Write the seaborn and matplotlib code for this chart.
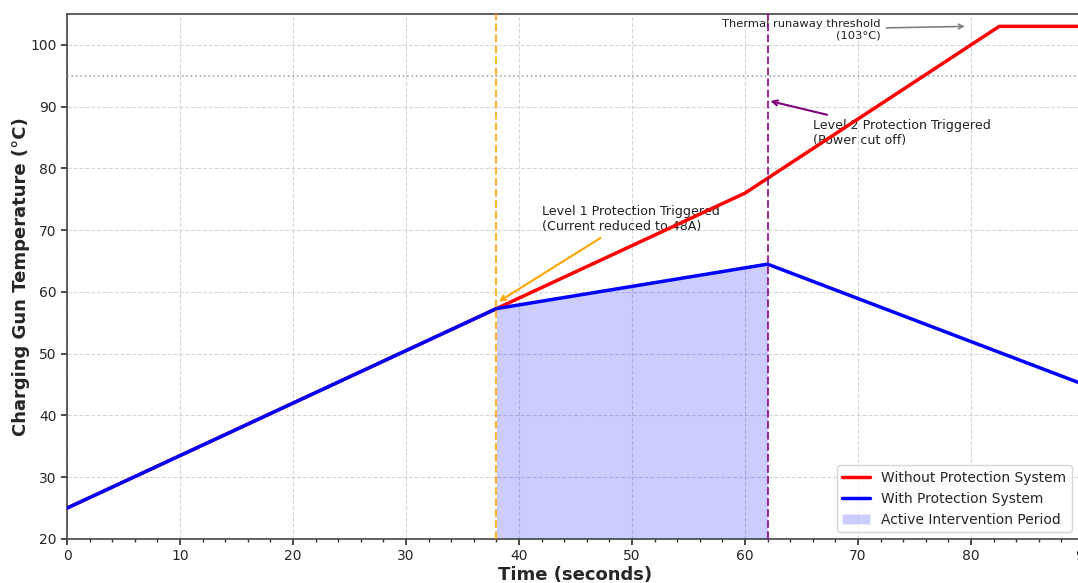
import matplotlib
matplotlib.use("Agg")
import matplotlib.pyplot as plt
import seaborn as sns
import pandas as pd
from matplotlib.ticker import MultipleLocator
from matplotlib.patches import Patch
from matplotlib.lines import Line2D

# Data
time_without = [0, 38, 60, 82.5, 90]
temp_without = [25, 57.3, 76, 103, 103]
time_with = [0, 38, 62, 90]
temp_with = [25, 57.3, 64.5, 45]
level1_time = 38
level2_time = 62
warning_temp = 95
runaway_temp = 103

sns.set_theme(style="white")
plt.rcParams['font.family'] = ['DejaVu Sans']

fig = plt.figure(figsize=(10.78, 5.83), dpi=100)
ax = fig.add_axes([67/1078, 1 - 539/583, (1084 - 67)/1078, (539 - 14)/583])

df_wo = pd.DataFrame({"t": time_without, "T": temp_without})
df_w = pd.DataFrame({"t": time_with, "T": temp_with})

sns.lineplot(data=df_wo, x="t", y="T", ax=ax, color="red", linewidth=2.5,
             estimator=None, sort=True, zorder=4)
sns.lineplot(data=df_w, x="t", y="T", ax=ax, color="blue", linewidth=2.5,
             estimator=None, sort=True, zorder=5)

# shaded intervention region
fill_t = [t for t in time_with if level1_time <= t <= level2_time]
fill_T = [T for t, T in zip(time_with, temp_with) if level1_time <= t <= level2_time]
ax.fill_between(fill_t, fill_T, 20, color="blue", alpha=0.2, linewidth=0, zorder=2)

ax.axvline(level1_time, color="orange", linestyle="--", linewidth=1.5, alpha=0.8, zorder=6)
ax.axvline(level2_time, color="purple", linestyle="--", linewidth=1.5, alpha=0.8, zorder=6)
ax.axhline(warning_temp, color="gray", linestyle=":", linewidth=1.2, alpha=0.7, zorder=3)

ax.annotate("Level 1 Protection Triggered\n(Current reduced to 48A)",
            xy=(38, 58.2), xytext=(42, 70.0), fontsize=9.1, color="#222222",
            arrowprops=dict(arrowstyle="->", color="orange", lw=1.5))
ax.annotate("Level 2 Protection Triggered\n(Power cut off)",
            xy=(62, 91), xytext=(66, 84.0), fontsize=9.1, color="#222222",
            arrowprops=dict(arrowstyle="->", color="purple", lw=1.5))
ax.annotate("Thermal runaway threshold\n(103°C)",
            xy=(79.7, 103), xytext=(72, 102.5), fontsize=8.25, ha="right", va="center",
            multialignment="right", color="#222222",
            arrowprops=dict(arrowstyle="->", color="gray", lw=1.2))

ax.set_xlim(0, 90)
ax.set_ylim(20, 105)
ax.xaxis.set_major_locator(MultipleLocator(10))
ax.xaxis.set_minor_locator(MultipleLocator(2))
ax.yaxis.set_major_locator(MultipleLocator(10))
ax.tick_params(axis="x", which="major", bottom=True, length=4, color="#333333", labelsize=10)
ax.tick_params(axis="x", which="minor", bottom=True, length=2, color="#333333")
ax.tick_params(axis="y", which="major", left=True, length=4, color="#333333", labelsize=10)
ax.grid(True, which="major", linestyle="--", color="#cccccc", alpha=0.8, linewidth=0.8)

for s in ax.spines.values():
    s.set_color("#444444")
    s.set_linewidth(1.2)

ax.set_xlabel("Time (seconds)", fontsize=13, fontweight="bold", labelpad=2)
ax.set_ylabel("Charging Gun Temperature (°C)", fontsize=13, fontweight="bold", labelpad=0)

handles = [Line2D([0], [0], color="red", lw=2.5),
           Line2D([0], [0], color="blue", lw=2.5),
           Patch(facecolor="blue", alpha=0.2)]
labels = ["Without Protection System", "With Protection System", "Active Intervention Period"]
ax.legend(handles, labels, loc="lower right", fontsize=10, frameon=True,
          bbox_to_anchor=(0.995, 0.0), borderaxespad=0.5)

fig.savefig("out.png", dpi=100)
